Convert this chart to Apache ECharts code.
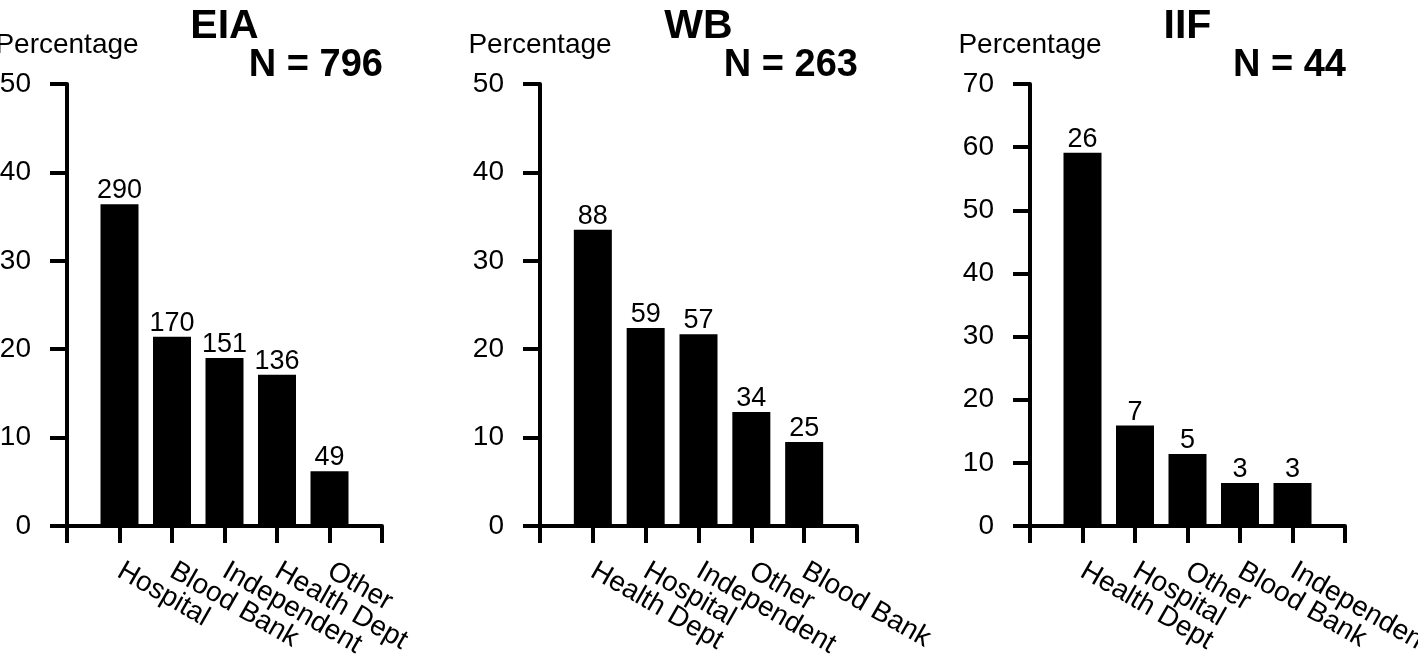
<!DOCTYPE html>
<html>
<head>
<meta charset="utf-8">
<script src="https://cdn.jsdelivr.net/npm/echarts@6/dist/echarts.min.js"></script>
<style>
html,body{margin:0;padding:0;background:#fff;}
#chart{width:1418px;height:664px;}
</style>
</head>
<body>
<div id="chart"></div>
<script>
// ---- data ----
const panelTitles = ['EIA', 'WB', 'IIF'];
const panelN = ['N = 796', 'N = 263', 'N = 44'];

const eiaCats = ['Hospital', 'Blood Bank', 'Independent', 'Health Dept', 'Other'];
const eiaPct = [36.4, 21.4, 19.0, 17.1, 6.2];
const eiaCounts = [290, 170, 151, 136, 49];

const wbCats = ['Health Dept', 'Hospital', 'Independent', 'Other', 'Blood Bank'];
const wbPct = [33.5, 22.4, 21.7, 12.9, 9.5];
const wbCounts = [88, 59, 57, 34, 25];

const iifCats = ['Health Dept', 'Hospital', 'Other', 'Blood Bank', 'Independent'];
const iifPct = [59.1, 15.9, 11.4, 6.8, 6.8];
const iifCounts = [26, 7, 5, 3, 3];

const yMax = [50, 50, 70];
const yInterval = 10;
const yName = 'Percentage';

// ---- layout ----
const FONT = '"Liberation Sans", Arial, Helvetica, sans-serif';
const grids = [
  { left: 67, width: 315 },
  { left: 540, width: 317 },
  { left: 1030, width: 315 }
];
const gridTop = 84, gridBottom = 138;

const cats = [eiaCats, wbCats, iifCats];
const pcts = [eiaPct, wbPct, iifPct];
const counts = [eiaCounts, wbCounts, iifCounts];

const lineStyle = { color: '#000', width: 4 };

const option = {
  backgroundColor: '#fff',
  animation: false,
  textStyle: { fontFamily: FONT },
  grid: grids.map(g => ({ left: g.left, width: g.width, top: gridTop, bottom: gridBottom, containLabel: false, outerBoundsMode: 'none' })),
  xAxis: cats.map((c, i) => ({
    type: 'category',
    gridIndex: i,
    data: [''].concat(c, ['']),
    boundaryGap: false,
    axisLine: { show: true, lineStyle: lineStyle },
    axisTick: { show: true, interval: 0, length: 17, inside: false, lineStyle: lineStyle },
    axisLabel: { interval: 0, rotate: -30, margin: 43, color: '#000', fontSize: 28, fontFamily: FONT, hideOverlap: false },
    splitLine: { show: false }
  })),
  yAxis: cats.map((c, i) => ({
    type: 'value',
    gridIndex: i,
    min: 0,
    max: yMax[i],
    interval: yInterval,
    name: yName,
    nameLocation: 'end',
    nameGap: 39,
    nameTextStyle: { color: '#000', fontSize: 28, fontFamily: FONT, align: 'center', verticalAlign: 'middle' },
    axisLine: { show: true, lineStyle: lineStyle },
    axisTick: { show: true, length: 17, inside: false, lineStyle: lineStyle },
    axisLabel: { margin: 36, color: '#000', fontSize: 28, fontFamily: FONT },
    splitLine: { show: false }
  })),
  series: cats.map((c, i) => ({
    type: 'bar',
    xAxisIndex: i,
    yAxisIndex: i,
    barWidth: 38,
    itemStyle: { color: '#000' },
    data: [null].concat(pcts[i], [null]),
    label: {
      show: true,
      position: 'top',
      distance: 0,
      color: '#000',
      fontSize: 27,
      fontFamily: FONT,
      formatter: p => String(counts[i][p.dataIndex - 1])
    }
  })),
  graphic: []
};

grids.forEach((g, i) => {
  option.graphic.push({
    type: 'text',
    x: g.left + g.width / 2,
    y: 26.5,
    style: { text: panelTitles[i], font: 'bold 41px ' + FONT, fill: '#000', textAlign: 'center', textVerticalAlign: 'middle' }
  });
  option.graphic.push({
    type: 'text',
    x: g.left + g.width + 1,
    y: 65.5,
    style: { text: panelN[i], font: 'bold 38px ' + FONT, fill: '#000', textAlign: 'right', textVerticalAlign: 'middle' }
  });
});

const chart = echarts.init(document.getElementById('chart'), null, { renderer: 'canvas' });
chart.setOption(option);
</script>
</body>
</html>
